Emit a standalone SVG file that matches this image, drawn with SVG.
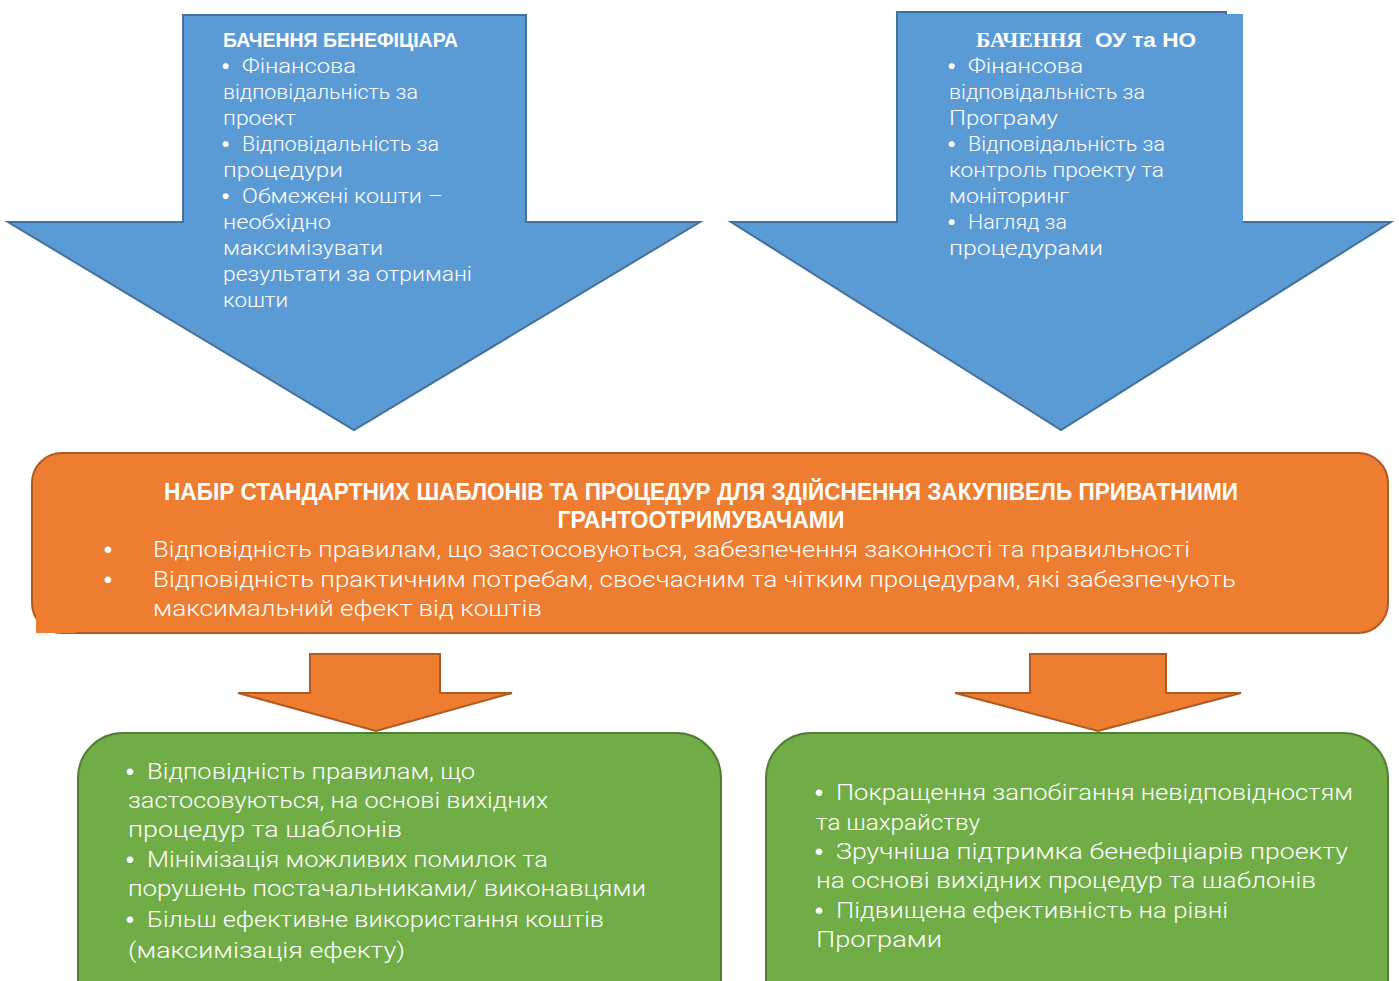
<svg xmlns="http://www.w3.org/2000/svg" width="1399" height="981" viewBox="0 0 1399 981">
  <style>
    .blue { fill: #5B9BD5; stroke: #41719C; stroke-width: 2; stroke-linejoin: miter; }
    .orange { fill: #ED7D31; stroke: #AE5A21; stroke-width: 2; }
    .green { fill: #70AD47; stroke: #507E32; stroke-width: 2; }
    text { fill: #FFFFFF; font-family: "Roboto", "Noto Sans", "Liberation Sans", sans-serif; font-weight: 300; }
    .t20 { font-size: 20.5px; }
    .t22 { font-size: 22.5px; }
    .b { font-family: "Liberation Sans", Arial, sans-serif; font-weight: bold; }
    .h { font-family: "Liberation Sans", Arial, sans-serif; font-weight: bold; }
    .hs { font-family: "Liberation Serif", "Times New Roman", serif; font-weight: bold; }
  </style>

  <!-- Blue block arrow: beneficiary view -->
  <g id="beneficiary-view">
    <polygon class="blue" points="183,15 526,15 526,222 700,222 354,430 8,222 183,222"/>
    <text class="h" x="223" y="47" font-size="21" textLength="235" lengthAdjust="spacingAndGlyphs">БАЧЕННЯ БЕНЕФІЦІАРА</text>
    <g class="t20">
      <text class="b" x="222" y="73">•</text>
      <text x="242" y="73" textLength="114" lengthAdjust="spacingAndGlyphs">Фінансова</text>
      <text x="223" y="99" textLength="195" lengthAdjust="spacingAndGlyphs">відповідальність за</text>
      <text x="223" y="125" textLength="73" lengthAdjust="spacingAndGlyphs">проект</text>
      <text class="b" x="222" y="151">•</text>
      <text x="242" y="151" textLength="197" lengthAdjust="spacingAndGlyphs">Відповідальність за</text>
      <text x="223" y="177" textLength="120" lengthAdjust="spacingAndGlyphs">процедури</text>
      <text class="b" x="222" y="203">•</text>
      <text x="242" y="203" textLength="201" lengthAdjust="spacingAndGlyphs">Обмежені кошти –</text>
      <text x="223" y="229" textLength="108" lengthAdjust="spacingAndGlyphs">необхідно</text>
      <text x="223" y="255" textLength="160" lengthAdjust="spacingAndGlyphs">максимізувати</text>
      <text x="223" y="281" textLength="249" lengthAdjust="spacingAndGlyphs">результати за отримані</text>
      <text x="223" y="307" textLength="65" lengthAdjust="spacingAndGlyphs">кошти</text>
    </g>
  </g>

  <!-- Blue block arrow: managing authority view -->
  <g id="authority-view">
    <polygon class="blue" points="897,12 1226,12 1226,222 1391,222 1061,430 731,222 897,222"/>
    <rect x="1225" y="14" width="18" height="209" fill="#5B9BD5"/>
    <text class="hs" x="976" y="47" font-size="21" textLength="106" lengthAdjust="spacingAndGlyphs">БАЧЕННЯ</text>
    <text class="h" x="1095" y="47" font-size="21" textLength="101" lengthAdjust="spacingAndGlyphs">ОУ та НО</text>
    <g class="t20">
      <text class="b" x="948" y="73">•</text>
      <text x="968" y="73" textLength="115" lengthAdjust="spacingAndGlyphs">Фінансова</text>
      <text x="949" y="99" textLength="196" lengthAdjust="spacingAndGlyphs">відповідальність за</text>
      <text x="949" y="125" textLength="109" lengthAdjust="spacingAndGlyphs">Програму</text>
      <text class="b" x="948" y="151">•</text>
      <text x="968" y="151" textLength="197" lengthAdjust="spacingAndGlyphs">Відповідальність за</text>
      <text x="949" y="177" textLength="215" lengthAdjust="spacingAndGlyphs">контроль проекту та</text>
      <text x="949" y="203" textLength="120" lengthAdjust="spacingAndGlyphs">моніторинг</text>
      <text class="b" x="948" y="229">•</text>
      <text x="968" y="229" textLength="99" lengthAdjust="spacingAndGlyphs">Нагляд за</text>
      <text x="949" y="255" textLength="154" lengthAdjust="spacingAndGlyphs">процедурами</text>
    </g>
  </g>

  <!-- Central orange box -->
  <g id="standard-templates">
    <rect class="orange" x="32" y="453" width="1356" height="180" rx="30" ry="30"/>
    <rect x="36" y="614" width="40" height="19" fill="#ED7D31"/>
    <text class="h" x="701" y="500" font-size="24" text-anchor="middle" textLength="1074" lengthAdjust="spacingAndGlyphs">НАБІР СТАНДАРТНИХ ШАБЛОНІВ ТА ПРОЦЕДУР ДЛЯ ЗДІЙСНЕННЯ ЗАКУПІВЕЛЬ ПРИВАТНИМИ</text>
    <text class="h" x="701" y="528" font-size="24" text-anchor="middle" textLength="287" lengthAdjust="spacingAndGlyphs">ГРАНТООТРИМУВАЧАМИ</text>
    <g class="t22">
      <text class="b" x="104" y="557">•</text>
      <text x="153" y="557" textLength="1037" lengthAdjust="spacingAndGlyphs">Відповідність правилам, що застосовуються, забезпечення законності та правильності</text>
      <text class="b" x="104" y="587">•</text>
      <text x="153" y="587" textLength="1083" lengthAdjust="spacingAndGlyphs">Відповідність практичним потребам, своєчасним та чітким процедурам, які забезпечують</text>
      <text x="153" y="616" textLength="389" lengthAdjust="spacingAndGlyphs">максимальний ефект від коштів</text>
    </g>
  </g>

  <!-- Orange connector arrows -->
  <g id="connectors">
    <polygon class="orange" points="310,654 440,654 440,693 512,693 376,731 238,693 310,693"/>
    <polygon class="orange" points="1030,654 1166,654 1166,693 1241,693 1098,731 955,693 1030,693"/>
  </g>

  <!-- Green outcome box: beneficiaries -->
  <g id="beneficiary-benefits">
    <rect class="green" x="78" y="733" width="643" height="300" rx="45" ry="45"/>
    <g class="t22">
      <text class="b" x="126" y="779">•</text>
      <text x="147" y="779" textLength="328" lengthAdjust="spacingAndGlyphs">Відповідність правилам, що</text>
      <text x="128" y="808" textLength="420" lengthAdjust="spacingAndGlyphs">застосовуються, на основі вихідних</text>
      <text x="128" y="837" textLength="274" lengthAdjust="spacingAndGlyphs">процедур та шаблонів</text>
      <text class="b" x="126" y="867">•</text>
      <text x="147" y="867" textLength="401" lengthAdjust="spacingAndGlyphs">Мінімізація можливих помилок та</text>
      <text x="128" y="896" textLength="518" lengthAdjust="spacingAndGlyphs">порушень постачальниками/ виконавцями</text>
      <text class="b" x="126" y="927">•</text>
      <text x="147" y="927" textLength="457" lengthAdjust="spacingAndGlyphs">Більш ефективне використання коштів</text>
      <text x="128" y="958" textLength="277" lengthAdjust="spacingAndGlyphs">(максимізація ефекту)</text>
    </g>
  </g>

  <!-- Green outcome box: programme level -->
  <g id="programme-benefits">
    <rect class="green" x="766" y="733" width="622" height="300" rx="45" ry="45"/>
    <g class="t22">
      <text class="b" x="815" y="800">•</text>
      <text x="836" y="800" textLength="517" lengthAdjust="spacingAndGlyphs">Покращення запобігання невідповідностям</text>
      <text x="816" y="830" textLength="164" lengthAdjust="spacingAndGlyphs">та шахрайству</text>
      <text class="b" x="815" y="859">•</text>
      <text x="836" y="859" textLength="512" lengthAdjust="spacingAndGlyphs">Зручніша підтримка бенефіціарів проекту</text>
      <text x="816" y="888" textLength="500" lengthAdjust="spacingAndGlyphs">на основі вихідних процедур та шаблонів</text>
      <text class="b" x="815" y="918">•</text>
      <text x="836" y="918" textLength="392" lengthAdjust="spacingAndGlyphs">Підвищена ефективність на рівні</text>
      <text x="816" y="947" textLength="126" lengthAdjust="spacingAndGlyphs">Програми</text>
    </g>
  </g>
</svg>
